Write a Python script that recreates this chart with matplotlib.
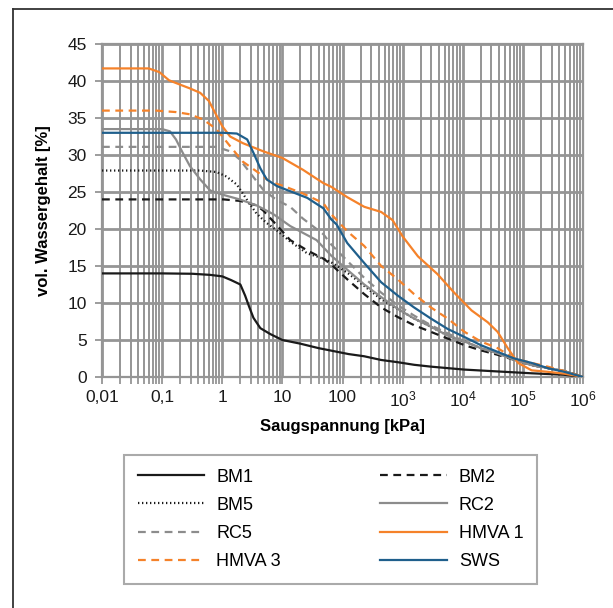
import matplotlib
matplotlib.use("Agg")
import matplotlib.pyplot as plt
from matplotlib.lines import Line2D
from matplotlib.ticker import FixedLocator, FixedFormatter, LogLocator, NullFormatter

plt.rcParams['font.family'] = ['Liberation Sans', 'DejaVu Sans']
plt.rcParams['mathtext.fontset'] = 'custom'
plt.rcParams['mathtext.rm'] = 'Liberation Sans'
plt.rcParams['mathtext.it'] = 'Liberation Sans'

# suction [kPa] / volumetric water content [%]
bm1_x = [0.01, 0.1, 0.32, 0.63, 1.0, 1.4, 2.0, 2.4, 2.8, 3.3, 4.3, 6.3, 10, 20, 40, 71, 126, 230, 440, 830, 1550, 2950, 5600, 10700, 38000, 140000, 490000, 1e6]
bm1_y = [14.0, 14.0, 13.95, 13.8, 13.6, 13.1, 12.5, 11.0, 9.5, 8.0, 6.6, 5.8, 5.0, 4.5, 3.9, 3.5, 3.1, 2.8, 2.3, 2.0, 1.65, 1.4, 1.2, 1.0, 0.75, 0.5, 0.3, 0.0]

bm2_x = [0.01, 1.05, 1.95, 3.7, 4.8, 8.1, 13.5, 26, 48, 65, 120, 230, 440, 830, 1550, 2950, 5600, 10700, 20000, 38000, 140000, 490000, 1e6]
bm2_y = [24.0, 24.0, 23.8, 23.2, 22.5, 20.5, 18.5, 17.1, 16.0, 15.2, 13.2, 11.2, 9.4, 8.1, 7.0, 6.1, 5.2, 4.3, 3.6, 3.0, 1.6, 0.8, 0.0]

bm5_x = [0.01, 0.43, 0.8, 1.17, 1.75, 2.6, 3.7, 5.5, 8.1, 13.5, 26, 48, 65, 120, 230, 440, 830, 1550, 2950, 5600, 10700, 20000, 38000, 140000, 490000, 1e6]
bm5_y = [27.9, 27.9, 27.7, 27.1, 26.0, 23.9, 22.1, 20.8, 19.8, 18.3, 16.7, 16.0, 15.5, 14.1, 12.3, 10.5, 9.2, 7.9, 6.8, 5.6, 4.8, 3.9, 3.2, 1.6, 0.8, 0.0]

rc2_x = [0.01, 0.1, 0.135, 0.17, 0.22, 0.29, 0.43, 0.63, 1.05, 1.95, 3.7, 7.1, 13.5, 37, 65, 120, 230, 440, 830, 1550, 2950, 5600, 10700, 20000, 38000, 72000, 140000, 490000, 1e6]
rc2_y = [33.5, 33.5, 33.2, 32.1, 30.3, 28.5, 26.7, 25.2, 24.6, 24.0, 23.2, 22.0, 20.4, 18.5, 16.4, 14.5, 12.5, 10.8, 9.2, 7.9, 6.8, 5.6, 4.8, 3.9, 3.2, 2.3, 1.6, 0.8, 0.0]

rc5_x = [0.01, 0.8, 1.35, 1.95, 2.9, 4.8, 8.1, 13.5, 22, 48, 65, 120, 230, 440, 830, 1550, 2950, 5600, 10700, 20000, 38000, 140000, 490000, 1e6]
rc5_y = [31.1, 31.1, 30.5, 29.4, 27.6, 25.3, 23.9, 23.0, 21.4, 19.3, 17.9, 15.7, 13.4, 11.4, 9.7, 8.3, 7.0, 5.9, 4.8, 3.9, 3.2, 1.6, 0.8, 0.0]

hmva1_x = [0.01, 0.06, 0.09, 0.13, 0.2, 0.29, 0.43, 0.6, 0.76, 1.0, 1.35, 2.2, 4.8, 10, 22, 48, 65, 120, 230, 440, 680, 1000, 1800, 3800, 7200, 14000, 26000, 38000, 56000, 83000, 140000, 260000, 490000, 1e6]
hmva1_y = [41.7, 41.7, 41.2, 40.1, 39.5, 39.0, 38.4, 37.3, 35.7, 33.9, 32.5, 31.6, 30.5, 29.6, 28.0, 26.2, 25.7, 24.3, 23.0, 22.3, 21.2, 19.0, 16.3, 13.9, 11.4, 9.0, 7.4, 6.1, 3.9, 1.9, 0.9, 0.7, 0.45, 0.0]

hmva3_x = [0.01, 0.08, 0.17, 0.29, 0.48, 0.8, 1.35, 2.2, 3.7, 6.2, 10.5, 22, 48, 65, 120, 230, 440, 830, 1550, 2950, 5600, 10700, 20000, 38000, 72000, 140000, 260000, 490000, 1e6]
hmva3_y = [36.0, 36.0, 35.8, 35.5, 34.8, 33.5, 31.2, 29.1, 27.8, 26.4, 25.8, 24.8, 23.5, 22.0, 19.7, 17.7, 15.0, 13.2, 11.2, 9.4, 7.9, 6.1, 4.8, 3.9, 2.5, 1.9, 1.4, 0.8, 0.0]

sws_x = [0.01, 1.05, 1.75, 2.6, 3.3, 4.3, 5.5, 8.1, 13.5, 26, 48, 65, 80, 120, 230, 440, 830, 1550, 2950, 5600, 10700, 20000, 38000, 72000, 140000, 260000, 490000, 1e6]
sws_y = [33.0, 33.0, 32.9, 32.1, 30.3, 28.2, 26.7, 25.8, 25.1, 24.2, 22.8, 21.3, 20.6, 18.1, 15.4, 12.8, 11.0, 9.4, 7.9, 6.5, 5.4, 4.3, 3.4, 2.5, 1.9, 1.2, 0.7, 0.0]

x_ticks = [0.01, 0.1, 1, 10, 100, 1e3, 1e4, 1e5, 1e6]
x_labels = ['0,01', '0,1', '1', '10', '100', '$10^3$', '$10^4$', '$10^5$', '$10^6$']

black = '#1a1a1a'
grey = '#8c8c8c'
orange = '#f5822a'
blue = '#1f5f8c'
dash = (0, (3.5, 2.5))

series = [
    ('BM1', bm1_x, bm1_y, black, '-'),
    ('BM2', bm2_x, bm2_y, black, dash),
    ('BM5', bm5_x, bm5_y, black, (0, (0.6, 1.2))),
    ('RC2', rc2_x, rc2_y, grey, '-'),
    ('RC5', rc5_x, rc5_y, grey, dash),
    ('HMVA 1', hmva1_x, hmva1_y, orange, '-'),
    ('HMVA 3', hmva3_x, hmva3_y, orange, dash),
    ('SWS', sws_x, sws_y, blue, '-'),
]

fig = plt.figure(figsize=(6.13, 6.08), dpi=100)
ax = fig.add_axes([102 / 613, 1 - 377 / 608, 481 / 613, 333 / 608])

handles = {}
for name, xs, ys, col, ls in series:
    h, = ax.plot(xs, ys, color=col, linestyle=ls, linewidth=1.6, label=name, zorder=3)
    handles[name] = h

ax.set_xscale('log')
ax.set_xlim(0.01, 1e6)
ax.set_ylim(0, 45)
ax.set_yticks(range(0, 46, 5))
ax.xaxis.set_major_locator(FixedLocator(x_ticks))
ax.xaxis.set_major_formatter(FixedFormatter(x_labels))
ax.xaxis.set_minor_locator(LogLocator(base=10, subs=range(2, 10), numticks=20))
ax.xaxis.set_minor_formatter(NullFormatter())

gc = '#959595'
ax.grid(True, which='major', color=gc, linewidth=2.0, zorder=0)
ax.grid(True, which='minor', axis='x', color=gc, linewidth=1.4, zorder=0)
ax.set_axisbelow(True)
for s in ax.spines.values():
    s.set_color(gc)
    s.set_linewidth(1.6)

ax.tick_params(axis='both', which='both', direction='out', color=gc, width=1.3, labelsize=12.5, labelcolor='#1a1a1a')
ax.tick_params(axis='y', length=5, pad=6)
ax.tick_params(axis='x', which='major', length=5, pad=4)
ax.tick_params(axis='x', which='minor', length=5)

ax.set_xlabel('Saugspannung [kPa]', fontsize=12, fontweight='bold', labelpad=7)
ax.set_ylabel('vol. Wassergehalt [%]', fontsize=12, fontweight='bold', labelpad=12)

order = ['BM1', 'BM5', 'RC5', 'HMVA 3', 'BM2', 'RC2', 'HMVA 1', 'SWS']
leg = fig.legend([handles[n] for n in order], order, ncol=2, loc='upper left',
                 bbox_to_anchor=(124 / 613, 1 - 583 / 608, 413 / 613, 128 / 608),
                 mode='expand', borderaxespad=0, fontsize=13, frameon=True, fancybox=False,
                 edgecolor=gc, handlelength=3.7, handletextpad=0.65,
                 labelspacing=0.62, borderpad=0.75, columnspacing=2.0)
leg.get_frame().set_linewidth(1.5)

# outer chart frame (top and left edges visible)
fig.add_artist(Line2D([13 / 613, 1.0], [1 - 9 / 608, 1 - 9 / 608], color='#333333', linewidth=1.3))
fig.add_artist(Line2D([13 / 613, 13 / 613], [0.0, 1 - 9 / 608], color='#333333', linewidth=1.3))

fig.savefig('out.png', dpi=100)
